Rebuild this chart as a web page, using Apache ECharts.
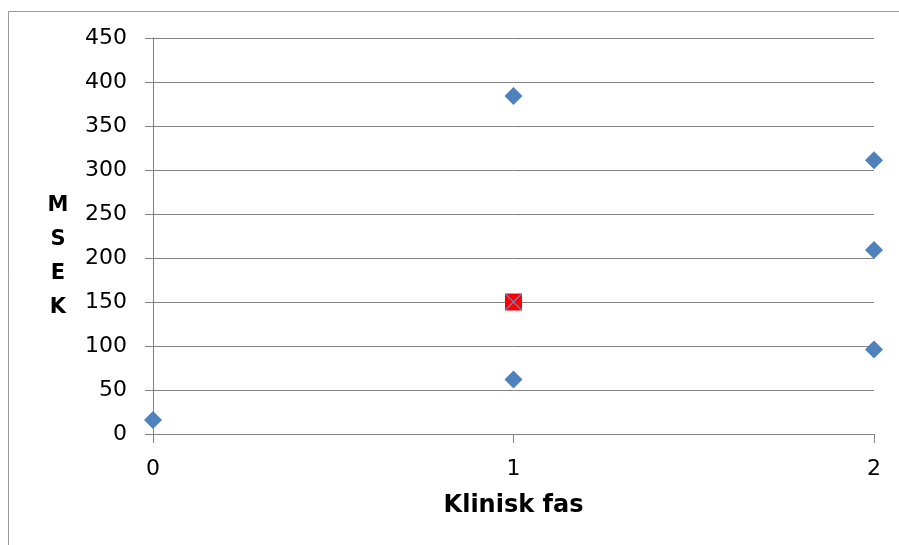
<!DOCTYPE html>
<html>
<head>
<meta charset="utf-8">
<script src="https://cdn.jsdelivr.net/npm/echarts@6/dist/echarts.min.js"></script>
<style>
  html, body { margin: 0; padding: 0; background: #fff; }
  #chart { width: 899px; height: 545px; }
</style>
</head>
<body>
<div id="chart"></div>
<script>
// Clinical phase vs. MSEK
const phaseValues = [0, 1, 1, 2, 2, 2];
const msekValues = [16, 384, 62, 311, 209, 96];
const highlightPhase = [1];
const highlightMsek = [150];
const yTicks = [0, 50, 100, 150, 200, 250, 300, 350, 400, 450];
const xTicks = [0, 1, 2];

const pairs = (xs, ys) => xs.map((x, i) => [x, ys[i]]);

const font = '"DejaVu Sans", Verdana, sans-serif';
const gridColor = '#828282';

const chart = echarts.init(document.getElementById('chart'), null, { renderer: 'canvas' });
chart.setOption({
  backgroundColor: '#ffffff',
  animation: false,
  grid: { left: 153, right: 25, top: 38, bottom: 111, containLabel: false },
  graphic: [
    {
      type: 'rect',
      shape: { x: 8.5, y: 11.5, width: 1000, height: 1000 },
      style: { fill: 'none', stroke: '#9a9a9a', lineWidth: 1 },
      silent: true
    },
    {
      type: 'text',
      x: 58, y: 257,
      style: {
        text: 'M\nS\nE\nK',
        font: 'bold 21px ' + font,
        fill: '#000',
        align: 'center',
        verticalAlign: 'middle',
        lineHeight: 34
      },
      silent: true
    }
  ],
  xAxis: {
    type: 'value',
    min: xTicks[0],
    max: xTicks[xTicks.length - 1],
    interval: 1,
    name: 'Klinisk fas',
    nameLocation: 'middle',
    nameGap: 60,
    nameTextStyle: { fontFamily: font, fontWeight: 'bold', fontSize: 24, color: '#000' },
    axisLine: { show: true, onZero: false, lineStyle: { color: gridColor, width: 1 } },
    axisTick: { show: true, inside: false, length: 9, lineStyle: { color: gridColor } },
    axisLabel: { fontFamily: font, fontSize: 22, color: '#000', margin: 24 },
    splitLine: { show: false }
  },
  yAxis: {
    type: 'value',
    min: yTicks[0],
    max: yTicks[yTicks.length - 1],
    interval: 50,
    axisLine: { show: true, onZero: false, lineStyle: { color: gridColor, width: 1 } },
    axisTick: { show: true, inside: false, length: 8, lineStyle: { color: gridColor } },
    axisLabel: { fontFamily: font, fontSize: 22, color: '#000', margin: 26 },
    splitLine: { show: true, lineStyle: { color: gridColor, width: 1 } }
  },
  series: [
    {
      type: 'scatter',
      data: pairs(phaseValues, msekValues),
      symbol: 'diamond',
      symbolSize: [18, 18],
      itemStyle: { color: '#4F81BD', opacity: 1 },
      z: 3
    },
    {
      type: 'scatter',
      data: pairs(highlightPhase, highlightMsek),
      symbol: 'rect',
      symbolSize: [17, 17],
      itemStyle: { color: '#FF0000', opacity: 1 },
      z: 4
    },
    {
      type: 'scatter',
      data: pairs(highlightPhase, highlightMsek),
      symbol: 'path://M0,0L10,10M10,0L0,10',
      symbolSize: [16, 16],
      itemStyle: { color: 'none', borderColor: '#6f83bd', borderWidth: 1.2, opacity: 1 },
      z: 5
    }
  ]
});
</script>
</body>
</html>
